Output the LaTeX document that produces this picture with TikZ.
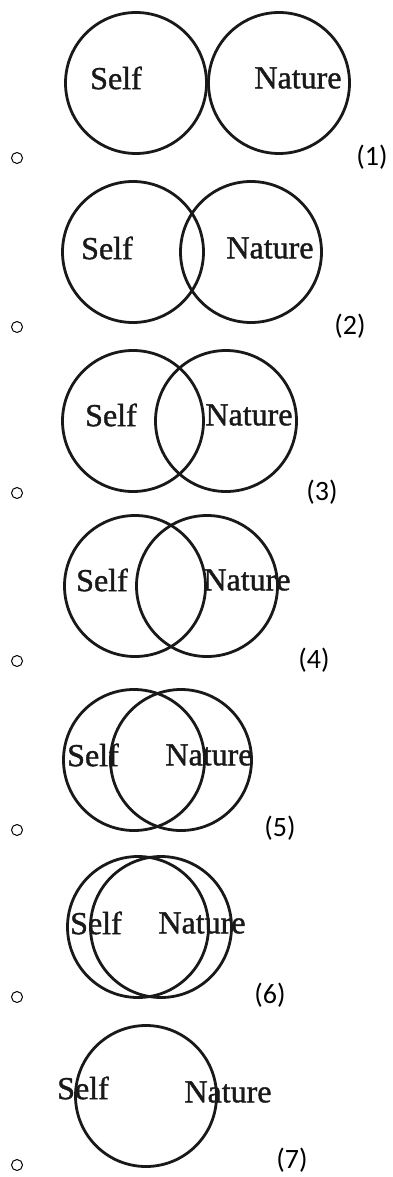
\documentclass[tikz,border=0pt]{standalone}
\usepackage{fontspec}
\setmainfont{Liberation Serif}
\newfontfamily\wordfont[FakeBold=1.2]{Liberation Serif}
\newfontfamily\labelfont{Carlito}
\begin{document}
\begin{tikzpicture}[x=1pt,y=-1pt,
  ring/.style={circle,draw=black!90,line width=2.8pt,minimum size=141pt,inner sep=0pt},
  word/.style={font=\wordfont\fontsize{32}{32}\selectfont,text=black!90,inner sep=0pt},
  bullet/.style={circle,draw=black,line width=1pt,minimum size=11pt,inner sep=0pt},
  num/.style={font=\labelfont\fontsize{28}{28}\selectfont,inner sep=0pt}]
\useasboundingbox (0,0) rectangle (393,1177);
% (1)
\node[ring] (c1a) at (136,83) {};
\node[ring] (c1b) at (279,83) {};
\node[word] (s1) at (116,78) {Self};
\node[word] (n1) at (298,78) {Nature};
\node[bullet] (b1) at (17,158) {};
\node[num] (l1) at (372,157) {(1)};
% (2)
\node[ring] (c2a) at (133,252) {};
\node[ring] (c2b) at (251,252) {};
\node[word] (s2) at (107,248) {Self};
\node[word] (n2) at (270,248) {Nature};
\node[bullet] (b2) at (17,327) {};
\node[num] (l2) at (350,326) {(2)};
% (3)
\node[ring] (c3a) at (133,421) {};
\node[ring] (c3b) at (226,421) {};
\node[word] (s3) at (111,415) {Self};
\node[word] (n3) at (249,415) {Nature};
\node[bullet] (b3) at (17,493) {};
\node[num] (l3) at (322,492) {(3)};
% (4)
\node[ring] (c4a) at (135,586) {};
\node[ring] (c4b) at (207,586) {};
\node[word] (s4) at (102,580) {Self};
\node[word] (n4) at (247,580) {Nature};
\node[bullet] (b4) at (17,661) {};
\node[num] (l4) at (314,660) {(4)};
% (5)
\node[ring] (c5a) at (134,760) {};
\node[ring] (c5b) at (181,760) {};
\node[word] (s5) at (93,755) {Self};
\node[word] (n5) at (209,755) {Nature};
\node[bullet] (b5) at (17,830) {};
\node[num] (l5) at (280,828) {(5)};
% (6)
\node[ring] (c6a) at (138,927) {};
\node[ring] (c6b) at (161,927) {};
\node[word] (s6) at (96,923) {Self};
\node[word] (n6) at (202,923) {Nature};
\node[bullet] (b6) at (17,997) {};
\node[num] (l6) at (270,995) {(6)};
% (7)
\node[ring] (c7) at (146,1096) {};
\node[word] (s7) at (83,1088) {Self};
\node[word] (n7) at (228,1092) {Nature};
\node[bullet] (b7) at (17,1165) {};
\node[num] (l7) at (292,1160) {(7)};
\end{tikzpicture}
\end{document}
